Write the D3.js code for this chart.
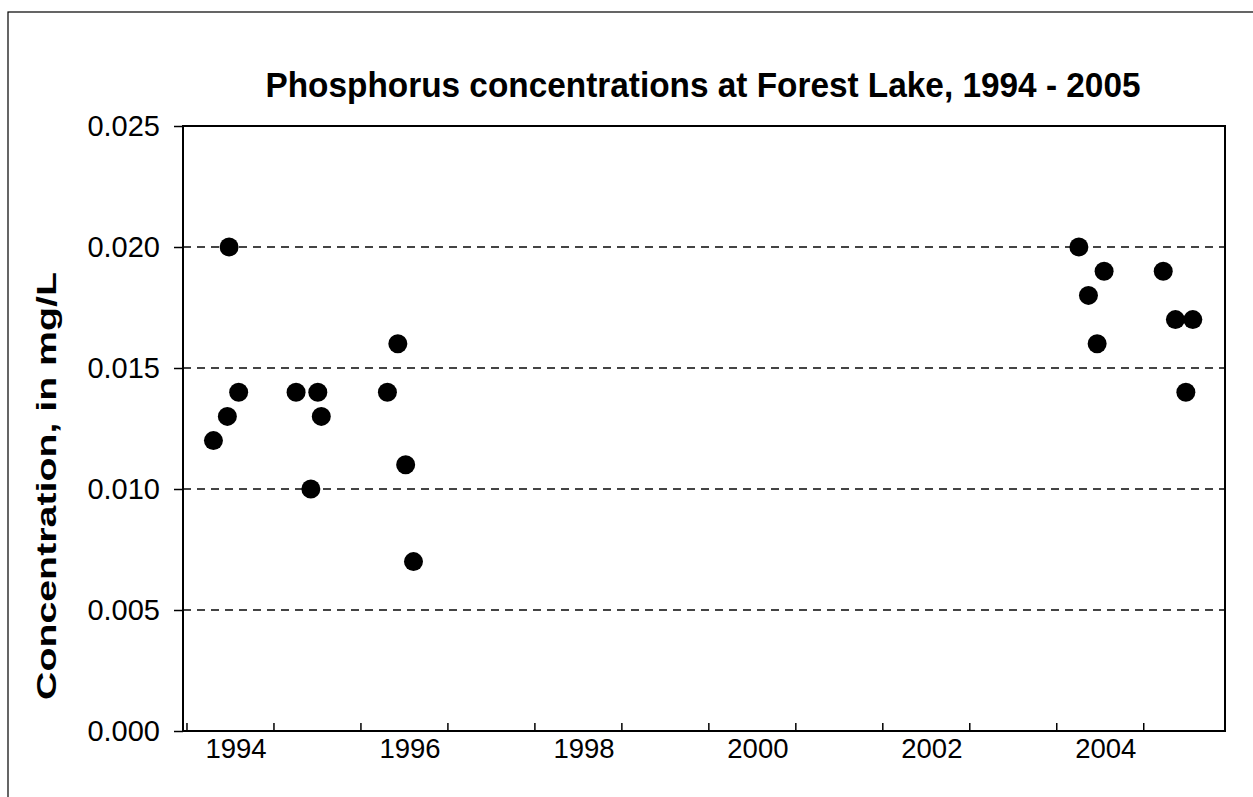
<!DOCTYPE html>
<html>
<head>
<meta charset="utf-8">
<script src="https://cdn.jsdelivr.net/npm/d3@7"></script>
<style>
  body { margin: 0; background: #fff; }
  text { font-family: "Liberation Sans", Arial, sans-serif; fill: #000; }
</style>
</head>
<body>
<script>
// sample dates (decimal years) and phosphorus concentrations, mg/L
var sampleDates = [
    1994.31, 1994.47, 1994.49, 1994.60,
    1995.26, 1995.43, 1995.51, 1995.55,
    1996.31, 1996.43, 1996.52, 1996.61,
    2004.26, 2004.37, 2004.47, 2004.55,
    2005.23, 2005.37, 2005.49, 2005.57
];
var concentrations = [
    0.012, 0.013, 0.020, 0.014,
    0.014, 0.010, 0.014, 0.013,
    0.014, 0.016, 0.011, 0.007,
    0.020, 0.018, 0.016, 0.019,
    0.019, 0.017, 0.014, 0.017
];
var yTicks = [0, 0.005, 0.010, 0.015, 0.020, 0.025];
var yearTicks = [1994, 1995, 1996, 1997, 1998, 1999, 2000, 2001, 2002, 2003, 2004, 2005];
var yearLabels = [1994, 1996, 1998, 2000, 2002, 2004];

var margin = {top: 126, right: 28, bottom: 66, left: 183};
var width = 1253 - margin.left - margin.right;
var height = 797 - margin.top - margin.bottom;

var svg = d3.select("body")
    .append("svg")
        .attr("width", 1253)
        .attr("height", 797);

// outer frame (right and bottom edges fall off the page)
svg.append("rect")
    .attr("x", 8)
    .attr("y", 12)
    .attr("width", 1260)
    .attr("height", 800)
    .attr("fill", "none")
    .attr("stroke", "#000")
    .attr("stroke-width", 1.2);

var g = svg.append("g")
    .attr("transform", "translate(" + margin.left + ", " + margin.top + ")");

var x = d3.scaleLinear()
    .domain([1993.96, 2005.94])
    .range([0, width]);

var y = d3.scaleLinear()
    .domain([0, 0.025])
    .range([height, 0]);

// dashed gridlines
g.selectAll("line.grid")
    .data(yTicks.filter((d) => { return d > 0 && d < 0.025; }))
    .enter()
    .append("line")
        .attr("class", "grid")
        .attr("x1", 0)
        .attr("x2", width)
        .attr("y1", (d) => { return y(d); })
        .attr("y2", (d) => { return y(d); })
        .attr("stroke", "#444")
        .attr("stroke-width", 1.2)
        .attr("shape-rendering", "crispEdges")
        .attr("stroke-dasharray", "8,6");

// plot box
g.append("rect")
    .attr("width", width)
    .attr("height", height)
    .attr("fill", "none")
    .attr("stroke", "#000")
    .attr("stroke-width", 2);

var leftAxis = d3.axisLeft(y)
    .tickValues(yTicks)
    .tickSize(9)
    .tickPadding(14)
    .tickFormat(d3.format(".3f"));
g.append("g")
    .attr("class", "left axis")
    .call(leftAxis)
    .call((a) => { a.select(".domain").remove(); })
    .call((a) => { a.selectAll("line").attr("stroke-width", 1.5); })
    .selectAll("text")
        .attr("font-size", "29px")
        .attr("font-family", "Liberation Sans, Arial, sans-serif");

// year ticks point inward, labels sit mid-year
var bottomAxis = d3.axisTop(x)
    .tickValues(yearTicks)
    .tickSize(8)
    .tickFormat("");
g.append("g")
    .attr("class", "bottom axis")
    .attr("transform", "translate(0, " + height + ")")
    .call(bottomAxis)
    .call((a) => { a.select(".domain").remove(); })
    .selectAll("line").attr("stroke-width", 1.5);

g.selectAll("text.year")
    .data(yearLabels)
    .enter()
    .append("text")
        .attr("class", "year")
        .attr("x", (d) => { return x(d + 0.57); })
        .attr("y", height + 27)
        .attr("text-anchor", "middle")
        .attr("font-size", "27.5px")
        .text((d) => { return d; });

g.selectAll("circle")
    .data(sampleDates)
    .enter()
    .append("circle")
        .attr("cx", (d) => { return x(d); })
        .attr("cy", (d, i) => { return y(concentrations[i]); })
        .attr("r", 9.5)
        .attr("fill", "#000");

svg.append("text")
    .attr("x", 703)
    .attr("y", 97)
    .attr("text-anchor", "middle")
    .attr("font-size", "35px")
    .attr("font-weight", "bold")
    .attr("textLength", 875)
    .attr("lengthAdjust", "spacingAndGlyphs")
    .text("Phosphorus concentrations at Forest Lake, 1994 - 2005");

svg.append("text")
    .attr("x", -486)
    .attr("y", 56)
    .attr("text-anchor", "middle")
    .attr("font-size", "28px")
    .attr("font-weight", "bold")
    .attr("textLength", 428)
    .attr("lengthAdjust", "spacingAndGlyphs")
    .attr("transform", "rotate(-90)")
    .text("Concentration, in mg/L");
</script>
</body>
</html>
